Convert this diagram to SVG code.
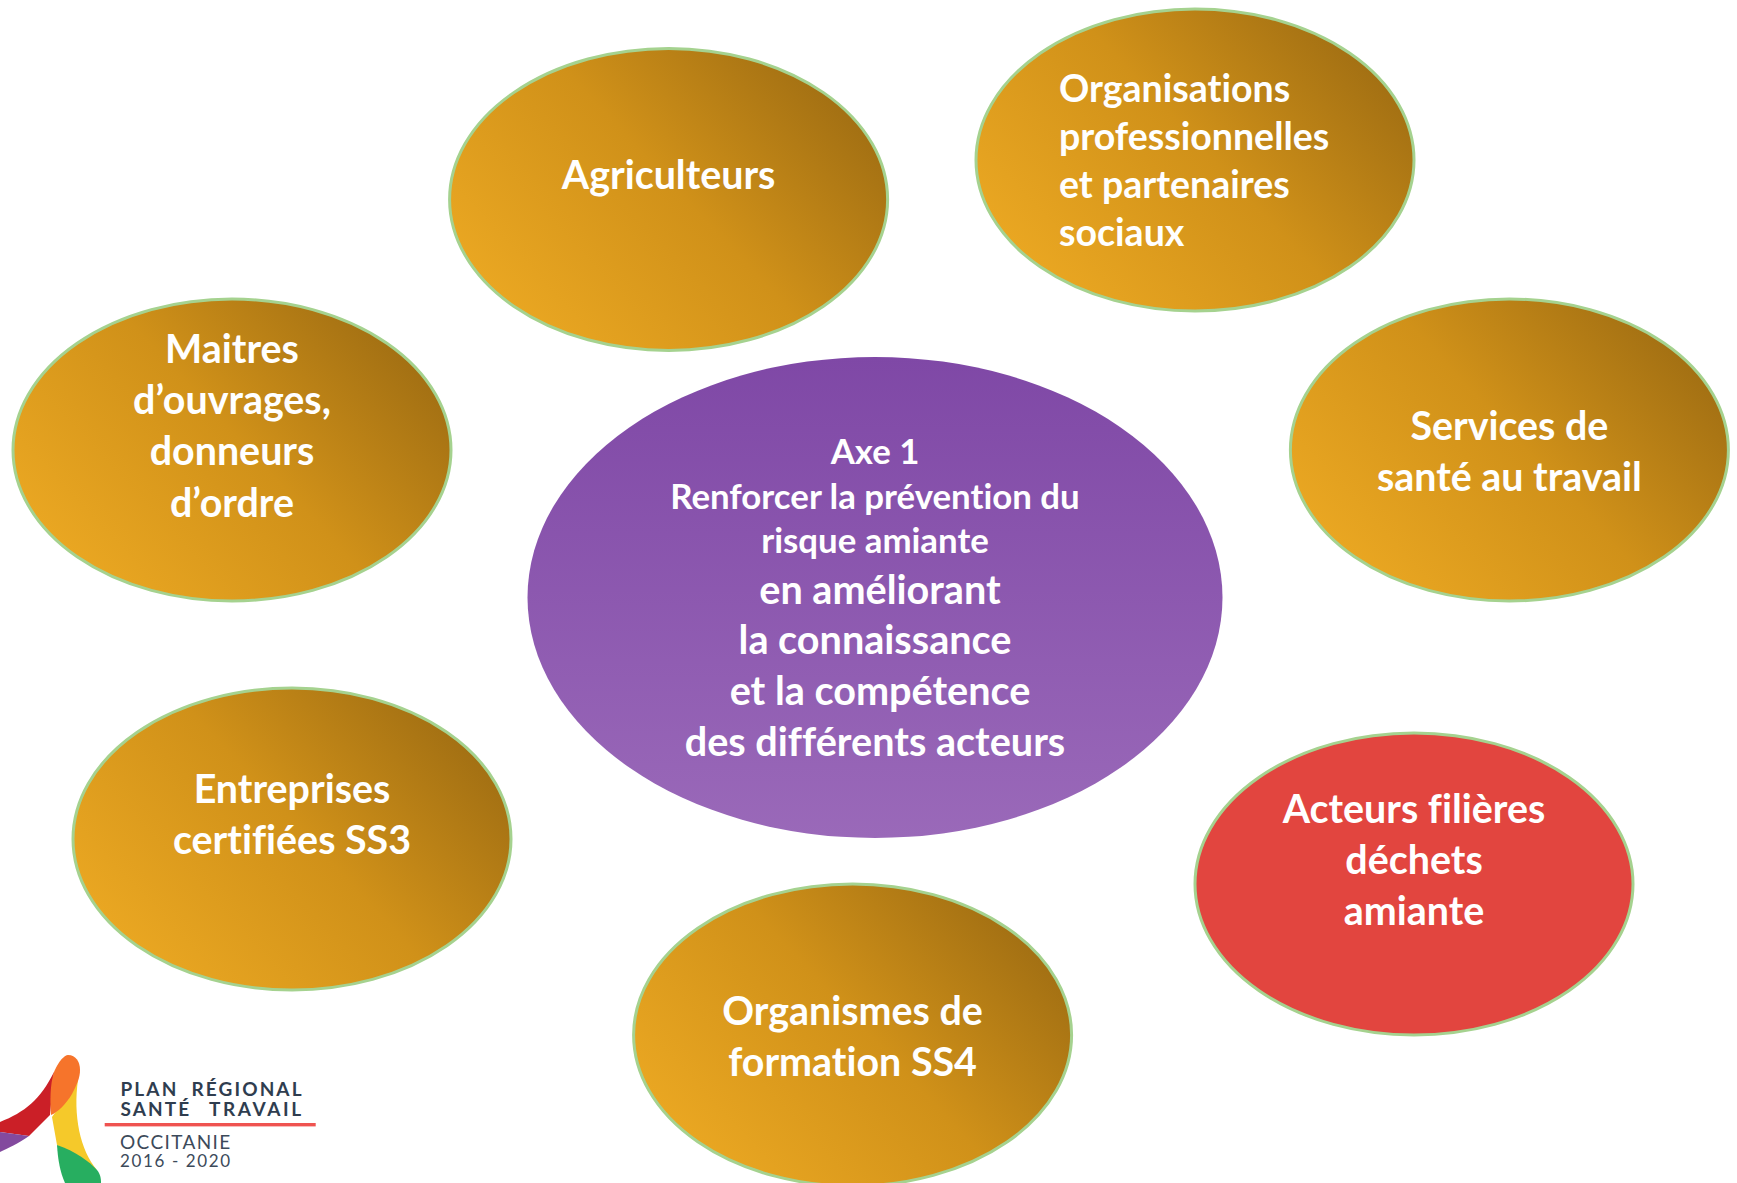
<svg xmlns="http://www.w3.org/2000/svg" width="1737" height="1183" viewBox="0 0 1737 1183">
<style>
text{font-family:"Lato","Carlito","Liberation Sans",sans-serif;font-weight:700;fill:#fff;font-variant-ligatures:none}
.l{font-size:39.4px;text-anchor:middle}
.t{font-size:37.5px}
.s{font-size:34.8px;text-anchor:middle}
.m{font-size:39.6px;text-anchor:middle}
.o{stroke:#A5D28F;stroke-width:3}
.logo text{fill:#2f3d4f;font-size:19px;letter-spacing:2.1px}
.logo .r{font-weight:400;fill:#3c4a5a;letter-spacing:1.8px}
</style>
<defs>
<linearGradient id="g" x1="0.03" y1="0.72" x2="0.95" y2="0.13"><stop offset="0" stop-color="#EAA722"/><stop offset="0.5" stop-color="#D09119"/><stop offset="1" stop-color="#9C6B12"/></linearGradient>
<linearGradient id="p" x1="0" y1="0" x2="0" y2="1"><stop offset="0" stop-color="#7F48A6"/><stop offset="1" stop-color="#9A69B9"/></linearGradient>
</defs>
<rect width="1737" height="1183" fill="#fff"/>
<g id="connectors"/>
<g id="centre"><ellipse cx="875" cy="597.5" rx="347.5" ry="240.5" fill="url(#p)"/>
<text class="s" x="875" y="463.5">Axe 1</text>
<text class="s" x="875" y="508.5">Renforcer la prévention du</text>
<text class="s" x="875" y="553">risque amiante</text>
<text class="m" x="880" y="603.5">en améliorant</text>
<text class="m" x="875" y="654">la connaissance</text>
<text class="m" x="880" y="705">et la compétence</text>
<text class="m" x="875" y="756">des différents acteurs</text></g>
<g id="agriculteurs"><ellipse class="o" cx="668.6" cy="199.4" rx="219" ry="151" fill="url(#g)"/>
<text class="l" x="668.6" y="189">Agriculteurs</text></g>
<g id="organisations"><ellipse class="o" cx="1195" cy="160" rx="219" ry="151" fill="url(#g)"/>
<text class="t" x="1059" y="102">Organisations</text>
<text class="t" x="1059" y="150">professionnelles</text>
<text class="t" x="1059" y="198">et partenaires</text>
<text class="t" x="1059" y="246">sociaux</text></g>
<g id="maitres"><ellipse class="o" cx="232" cy="450" rx="219" ry="151" fill="url(#g)"/>
<text class="l" x="232" y="363">Maitres</text>
<text class="l" x="232" y="414">d’ouvrages,</text>
<text class="l" x="232" y="465">donneurs</text>
<text class="l" x="232" y="517">d’ordre</text></g>
<g id="services"><ellipse class="o" cx="1509.4" cy="450" rx="219" ry="151" fill="url(#g)"/>
<text class="l" x="1509.4" y="440">Services de</text>
<text class="l" x="1509.4" y="491">santé au travail</text></g>
<g id="entreprises"><ellipse class="o" cx="292" cy="839" rx="219" ry="151" fill="url(#g)"/>
<text class="l" x="292" y="803">Entreprises</text>
<text class="l" x="292" y="854">certifiées SS3</text></g>
<g id="organismes"><ellipse class="o" cx="852.6" cy="1035" rx="219" ry="151" fill="url(#g)"/>
<text class="l" x="852.6" y="1025">Organismes de</text>
<text class="l" x="852.6" y="1076">formation SS4</text></g>
<g id="acteurs"><ellipse class="o" cx="1414" cy="884" rx="219" ry="151" fill="#E2453F"/>
<text class="l" x="1414" y="823">Acteurs filières</text>
<text class="l" x="1414" y="874">déchets</text>
<text class="l" x="1414" y="925">amiante</text></g>
<g id="logo" class="logo">
<path fill="#CB1F27" d="M0 1122C25 1112 40 1100 54 1072L50 1115L29 1136L0 1132Z"/>
<path fill="#834A9E" d="M0 1132L29 1136C18 1144 8 1148 0 1152Z"/>
<path fill="#F5C92A" d="M78 1080C73 1115 80 1150 97 1170L57 1145L52 1117Z"/>
<path fill="#F6742B" d="M54 1072C60 1058 66 1055 68 1055C76 1055 80 1062 80 1070C80 1078 77 1084 72 1094C66 1104 58 1112 51 1115C50 1100 50 1085 54 1072Z"/>
<path fill="#27AE60" d="M57 1145C75 1151 90 1162 97 1170C101 1175 101 1180 101 1183H65C60 1172 58 1160 57 1145Z"/>
<text y="1095.7"><tspan x="120.5">PLAN</tspan> <tspan x="191.5">RÉGIONAL</tspan></text>
<text y="1116"><tspan x="120.5">SANTÉ</tspan> <tspan x="209" style="letter-spacing:2.6px">TRAVAIL</tspan></text>
<rect x="104.7" y="1123" width="211" height="3.4" fill="#EF5350"/>
<text class="r" x="120" y="1149.3" style="font-size:19px" textLength="112">OCCITANIE</text>
<text class="r" x="120" y="1167" style="font-size:17px" textLength="112">2016 - 2020</text>
</g>
</svg>
